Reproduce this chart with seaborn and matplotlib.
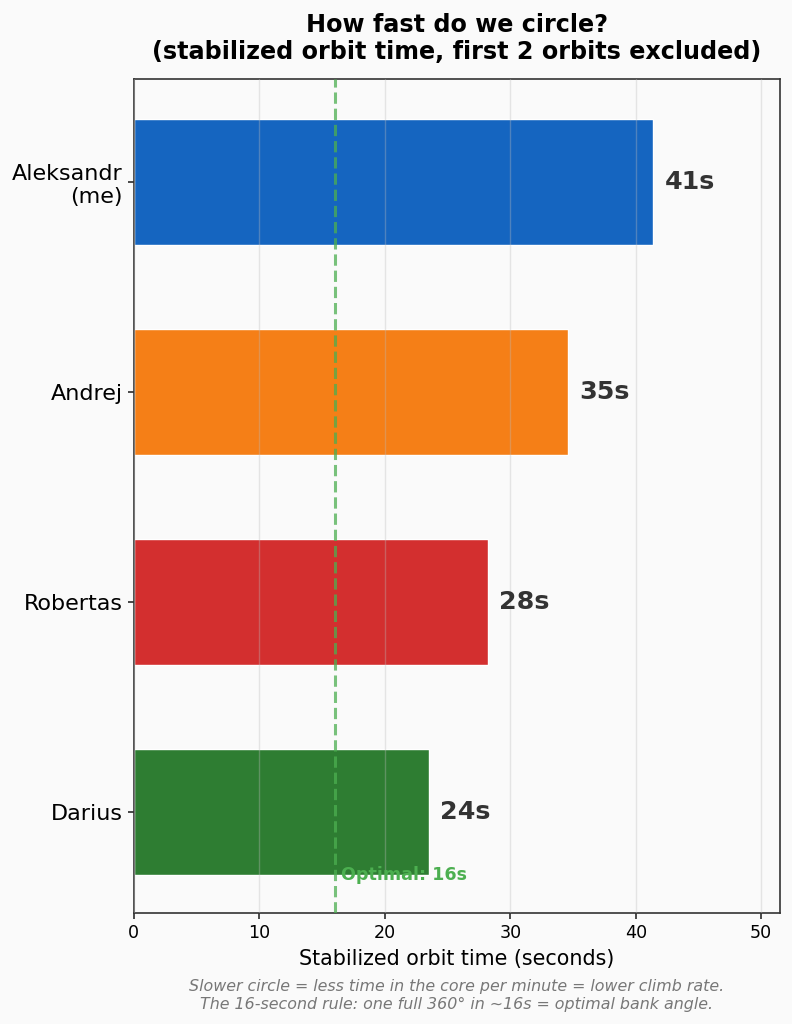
import matplotlib
matplotlib.use("Agg")
import matplotlib.pyplot as plt
import seaborn as sns
import pandas as pd

pilots = ["Aleksandr\n(me)", "Andrej", "Robertas", "Darius"]
orbit_times = [41.4, 34.6, 28.2, 23.5]
bar_colors = ["#1565C0", "#F57F17", "#D32F2F", "#2E7D32"]
optimal_time = 16
x_ticks = [0, 10, 20, 30, 40, 50]

sns.set_theme(style="white")
plt.rcParams["font.family"] = ["DejaVu Sans"]
plt.rcParams.update({"text.color": "black", "axes.labelcolor": "black",
                     "xtick.color": "black", "ytick.color": "black"})

df = pd.DataFrame({"pilot": pilots, "time": orbit_times})

fig = plt.figure(figsize=(7.92, 10.24), dpi=100, facecolor="#fafafa")
ax = fig.add_axes([0.169, 0.1085, 0.816, 0.8145])
ax.set_facecolor("#fafafa")

sns.barplot(data=df, x="time", y="pilot", hue="pilot", palette=bar_colors,
            orient="h", width=0.6, legend=False, ax=ax,
            edgecolor="white", linewidth=1, alpha=1, saturation=1, zorder=2)

ax.set_axisbelow(False)
ax.grid(axis="x", color="#bbbbbb", linewidth=1, alpha=0.35, zorder=2.5)
ax.axvline(optimal_time, color="#4CAF50", linestyle="--", linewidth=2.2,
           alpha=0.75, zorder=3)
ax.text(optimal_time + 0.5, 3.3, f"Optimal: {optimal_time}s", color="#4CAF50",
        fontsize=12.6, fontweight="bold", va="center", ha="left", zorder=4)

for i, v in enumerate(orbit_times):
    ax.text(v + 0.9, i, f"{v:.0f}s", va="center", ha="left", fontsize=18.3,
            fontweight="bold", color="#333333")

ax.set_xlim(0, 51.5)
ax.set_ylim(3.48, -0.49)
ax.set_xticks(x_ticks)
ax.tick_params(axis="x", labelsize=12.6, length=4.5, color="#333333", bottom=True)
ax.tick_params(axis="y", labelsize=16, length=4.5, color="#333333", left=True)
ax.set_xlabel("Stabilized orbit time (seconds)", fontsize=14.9, labelpad=5)
ax.set_ylabel("")
for s in ax.spines.values():
    s.set_color("#333333")
    s.set_linewidth(1.2)

ax.set_title("How fast do we circle?\n(stabilized orbit time, first 2 orbits excluded)",
             fontsize=17.2, fontweight="bold", pad=14)

fig.text(0.577, 0.028,
         "Slower circle = less time in the core per minute = lower climb rate.\n"
         "The 16-second rule: one full 360° in ~16s = optimal bank angle.",
         ha="center", va="center", fontsize=11.45, style="italic", color="#777777")

fig.savefig("out.png", dpi=100, facecolor="#fafafa")
